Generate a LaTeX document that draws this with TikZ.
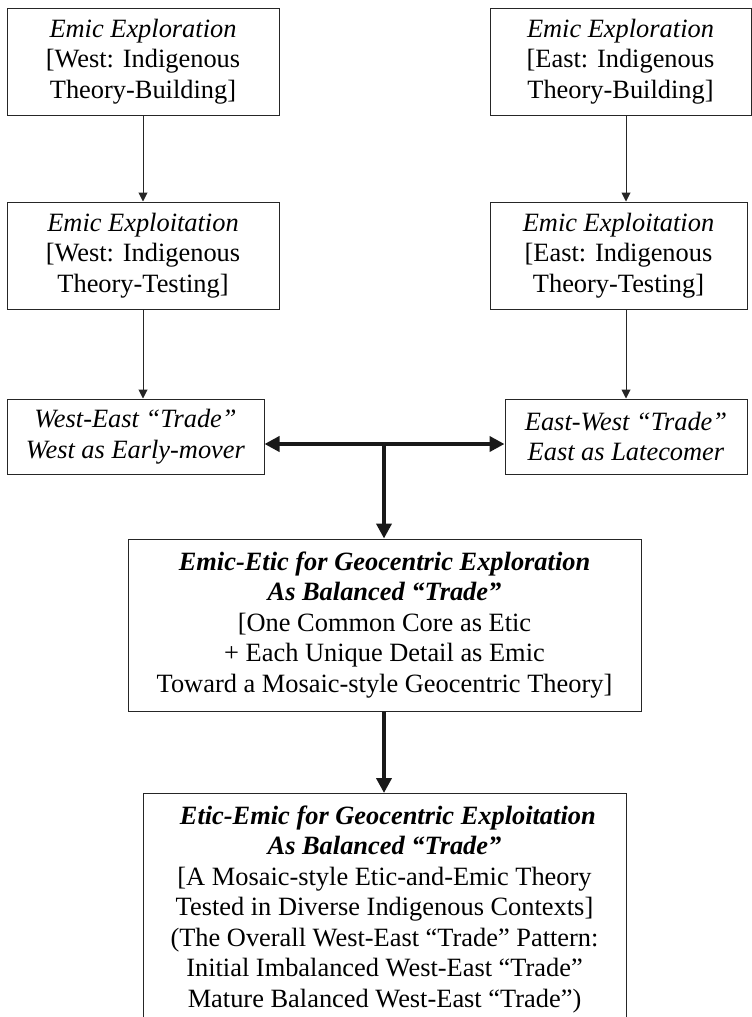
\documentclass[tikz,border=0pt]{standalone}
\usepackage{fontspec}
\setmainfont{Liberation Serif}
\usetikzlibrary{arrows.meta}
\begin{document}
\begin{tikzpicture}[x=1pt,y=-1pt,
  box/.style={draw=black!85,line width=1pt,align=center,inner sep=2pt,
    font=\fontsize{26.4}{30.5}\selectfont},
  thinarrow/.style={draw=black!85,line width=1pt,-{Triangle[length=9pt,width=9pt]}},
  fatline/.style={draw=black!90,line width=4pt},
  fatend/.style={-{Triangle[length=15pt,width=15pt]}},
  fatboth/.style={{Triangle[length=15pt,width=15pt]}-{Triangle[length=15pt,width=15pt]}}
]
\useasboundingbox (0,0) rectangle (752,1017);
\clip (0,0) rectangle (752,1017);

\node[box,minimum width=272pt,minimum height=107pt] (TL) at (143,61.5)
  {\textit{Emic Exploration}\\{[}West: Indigenous\\Theory-Building{]}};
\node[box,minimum width=261pt,minimum height=107pt] (TR) at (620.5,61.5)
  {\textit{Emic Exploration}\\{[}East: Indigenous\\Theory-Building{]}};
\node[box,minimum width=272pt,minimum height=107pt] (ML) at (143,255.5)
  {\textit{Emic Exploitation}\\{[}West: Indigenous\\Theory-Testing{]}};
\node[box,minimum width=257pt,minimum height=107pt] (MR) at (618.5,255.5)
  {\textit{Emic Exploitation}\\{[}East: Indigenous\\Theory-Testing{]}};
\node[box,minimum width=257pt,minimum height=75pt] (W) at (135.5,436.5)
  {\textit{West-East “Trade”}\\\textit{West as Early-mover}};
\node[box,minimum width=242pt,minimum height=75pt] (E) at (626,436.5)
  {\textit{East-West “Trade”}\\\textit{East as Latecomer}};
\node[box,minimum width=513pt,minimum height=172pt] (C) at (384.5,625)
  {\textbf{\textit{Emic-Etic for Geocentric Exploration}}\\
   \textbf{\textit{As Balanced “Trade”}}\\
   {[}One Common Core as Etic\\
   + Each Unique Detail as Emic\\
   Toward a Mosaic-style Geocentric Theory{]}};
\node[box,minimum width=483pt,anchor=north,inner ysep=12pt] (B) at (384.5,793)
  {\textbf{\textit{~Etic-Emic for Geocentric Exploitation}}\\
   \textbf{\textit{As Balanced “Trade”}}\\
   {[}A Mosaic-style Etic-and-Emic Theory\\
   Tested in Diverse Indigenous Contexts{]}\\
   (The Overall West-East “Trade” Pattern:\\
   Initial Imbalanced West-East “Trade”\\
   Mature Balanced West-East “Trade”)};

\coordinate (J) at (384,444);

\draw[thinarrow] (TL.south) -- (ML.north);
\draw[thinarrow] (ML.south) -- (ML.south |- W.north);
\draw[thinarrow] (TR.south -| E.north) -- (MR.north -| E.north);
\draw[thinarrow] (MR.south -| E.north) -- (E.north);

\draw[fatline,fatboth] (W.east |- J) -- (E.west |- J);
\draw[fatline,fatend] (J) -- (C.north -| J);
\draw[fatline,fatend] (C.south -| J) -- (B.north -| J);
\end{tikzpicture}
\end{document}
